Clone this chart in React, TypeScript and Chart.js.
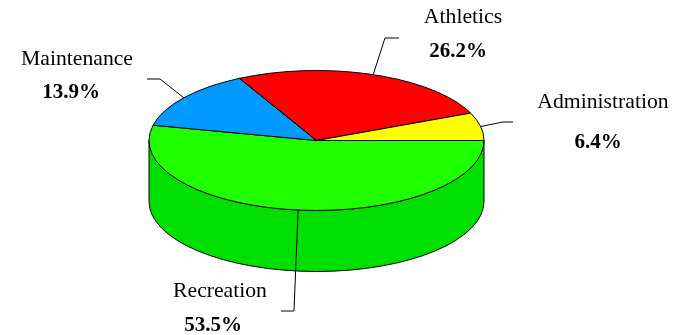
import React, { useEffect, useRef } from "react";
import { Chart, registerables } from "chart.js";

Chart.register(...registerables);

// Data (clockwise from 3 o'clock)
const categories = ["Recreation", "Maintenance", "Athletics", "Administration"];
const shares = [53.5, 13.9, 26.2, 6.4];
const percentLabels = ["53.5%", "13.9%", "26.2%", "6.4%"];

// Styles
const topColors = ["#20FF00", "#0099FF", "#FF0000", "#FFFF00"];
const sideColors = ["#00DF00", "#007ACC", "#CC0000", "#CCCC00"];

// Label layout (leader elbow / end, text anchors)
const labelLayout = [
  { elbow: [294, 311], end: [281, 311], name: [220, 297], pct: [213, 331] },
  { elbow: [160, 79], end: [147, 79], name: [77, 65], pct: [71, 98] },
  { elbow: [385, 38], end: [399, 38], name: [463, 23], pct: [458, 57] },
  { elbow: [503, 122], end: [513, 122], name: [603, 108], pct: [598, 148] },
];

const TILT = 70 / 167.5;
const DEPTH = 61;

function geom(arc: any) {
  const cx = arc.x;
  const cy = arc.y;
  const rx = arc.outerRadius;
  const ry = rx * TILT;
  return { cx, cy, rx, ry };
}

const pie3d = {
  id: "pie3d",
  beforeDatasetsDraw(chart: any) {
    const ctx: CanvasRenderingContext2D = chart.ctx;
    const meta = chart.getDatasetMeta(0);
    const arcs = meta.data;
    if (!arcs.length) return false;
    const { cx, cy, rx, ry } = geom(arcs[0]);
    ctx.save();
    ctx.lineWidth = 1;
    ctx.strokeStyle = "#000";
    // side walls (front half: angles 0..PI)
    arcs.forEach((arc: any, i: number) => {
      const norm = (a: number) => {
        let v = a % (2 * Math.PI);
        if (v < 0) v += 2 * Math.PI;
        return v;
      };
      const s = norm(arc.startAngle);
      const e = s + (arc.endAngle - arc.startAngle);
      const ranges: [number, number][] = [];
      for (const base of [0, 2 * Math.PI]) {
        const a0 = Math.max(s, base);
        const a1 = Math.min(e, base + Math.PI);
        if (a1 > a0) ranges.push([a0, a1]);
      }
      ranges.forEach(([a0, a1]) => {
        ctx.beginPath();
        ctx.ellipse(cx, cy, rx, ry, 0, a0, a1, false);
        ctx.lineTo(cx + rx * Math.cos(a1), cy + DEPTH + ry * Math.sin(a1));
        ctx.ellipse(cx, cy + DEPTH, rx, ry, 0, a1, a0, true);
        ctx.closePath();
        ctx.fillStyle = sideColors[i];
        ctx.fill();
        ctx.stroke();
      });
    });
    // top faces
    arcs.forEach((arc: any, i: number) => {
      ctx.beginPath();
      ctx.moveTo(cx, cy);
      ctx.ellipse(cx, cy, rx, ry, 0, arc.startAngle, arc.endAngle, false);
      ctx.closePath();
      ctx.fillStyle = topColors[i];
      ctx.fill();
      ctx.stroke();
    });
    ctx.restore();
    return false;
  },
  afterDraw(chart: any) {
    const ctx: CanvasRenderingContext2D = chart.ctx;
    const meta = chart.getDatasetMeta(0);
    const arcs = meta.data;
    if (!arcs.length) return;
    ctx.save();
    arcs.forEach((arc: any, i: number) => {
      const { cx, cy, rx, ry } = geom(arc);
      const mid = (arc.startAngle + arc.endAngle) / 2;
      const px = cx + rx * Math.cos(mid);
      const py = cy + ry * Math.sin(mid);
      const L = labelLayout[i];
      ctx.beginPath();
      ctx.moveTo(px, py);
      ctx.lineTo(L.elbow[0], L.elbow[1]);
      ctx.lineTo(L.end[0], L.end[1]);
      ctx.strokeStyle = "#000";
      ctx.lineWidth = 1;
      ctx.stroke();
      ctx.fillStyle = "#000";
      ctx.textAlign = "center";
      ctx.textBaseline = "alphabetic";
      ctx.font = '21.7px "Liberation Serif", "Times New Roman", serif';
      ctx.fillText(categories[i], L.name[0], L.name[1]);
      ctx.font = 'bold 21px "Liberation Serif", "Times New Roman", serif';
      ctx.fillText(percentLabels[i], L.pct[0], L.pct[1]);
    });
    ctx.restore();
  },
};

export default function App() {
  const ref = useRef<HTMLCanvasElement>(null);
  useEffect(() => {
    if (!ref.current) return;
    const chart = new Chart(ref.current, {
      type: "pie",
      data: {
        labels: categories,
        datasets: [
          {
            data: shares,
            backgroundColor: topColors,
            borderWidth: 0,
          },
        ],
      },
      options: {
        responsive: false,
        animation: false,
        rotation: 90,
        radius: 167.5,
        layout: { padding: { left: 149, right: 202, top: 0, bottom: 54 } },
        plugins: {
          legend: { display: false },
          tooltip: { enabled: false },
        },
        events: [],
      },
      plugins: [pie3d],
    });
    return () => chart.destroy();
  }, []);
  return (
    <div style={{ position: "fixed", left: 0, top: 0, width: 686, height: 335, background: "#fff" }}>
      <canvas ref={ref} width={686} height={335} style={{ display: "block" }} />
    </div>
  );
}
